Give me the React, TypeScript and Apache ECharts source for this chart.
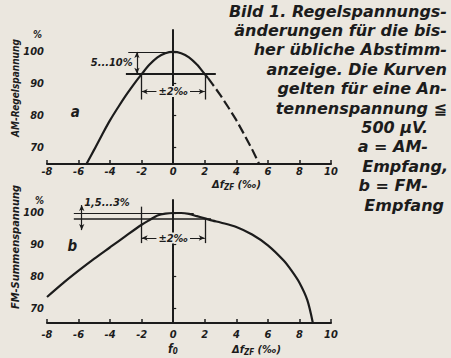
import React, { useEffect, useRef } from "react";
import * as echarts from "echarts";

// Curve a (AM-Regelspannung), left/top solid part and right dashed part
const aSolid: [number, number][] = [
  [-5.5, 64.7], [-5, 69.3], [-4.5, 74], [-4, 78.5], [-3.5, 82.5], [-3, 86.3], [-2.5, 89.8],
  [-2, 93], [-1.5, 96], [-1, 98.3], [-0.5, 99.6], [0, 100], [0.5, 99.6], [1, 98.3],
  [1.5, 96], [2, 93], [2.2, 91.8],
];
const aDashed: [number, number][] = [
  [2.2, 91.8], [2.5, 89.8], [3, 86.3], [3.5, 82.5], [4, 78.5], [4.5, 74], [5, 69.3], [5.45, 64.7],
];
// Curve b (FM-Summenspannung)
const bCurve: [number, number][] = [
  [-8, 73.5], [-7, 77.8], [-6, 81.8], [-5, 85.6], [-4, 89.2], [-3, 92.8], [-2, 96.3],
  [-1.5, 97.8], [-1, 99.2], [-0.5, 99.8], [0, 100], [0.5, 100], [1, 99.7], [1.5, 99],
  [2, 98.3], [2.5, 97.6], [3, 97], [4, 95.6], [5, 93.2], [6, 89.8], [7, 85], [7.5, 81.8],
  [8, 78], [8.5, 72.5], [8.85, 65.3],
];
const yTickValues = [70, 80, 90, 100];
const xMin = -8;
const xMax = 10;
const xStep = 2;
const captionLines = [
  "Bild 1. Regelspannungs-",
  "änderungen für die bis-",
  "her übliche Abstimm-",
  "anzeige. Die Kurven",
  "gelten für eine An-",
  "tennenspannung ≦",
  "500 µV.",
  "a = AM-",
  "Empfang,",
  "b = FM-",
  "Empfang",
];

const INK = "#1c1c1c";
const BG = "#ebe7df";
const FONT = "'DejaVu Sans Condensed', 'DejaVu Sans', sans-serif";

const lbl = { fontFamily: FONT, fontStyle: "italic", fontWeight: "bold", fontSize: 11, color: INK };

function seg(a: [number, number], b: [number, number], width = 1.3, type: any = "solid", arrows = false) {
  return [
    { coord: a, lineStyle: { color: INK, width, type }, symbol: arrows ? "arrow" : "none", symbolSize: [4, 6] },
    { coord: b, symbol: arrows ? "arrow" : "none", symbolSize: [4, 6] },
  ];
}

export default function App() {
  const ref = useRef<HTMLDivElement>(null);
  useEffect(() => {
    document.body.style.margin = "0";
    document.body.style.background = BG;
    const chart = echarts.init(ref.current!, null, { renderer: "svg" });
    const xAxisBase = (gridIndex: number, margin: number) => ({
      type: "value",
      gridIndex,
      min: xMin,
      max: xMax,
      interval: xStep,
      axisLine: { show: true, onZero: false, lineStyle: { color: INK, width: 2 } },
      axisTick: { show: true, inside: true, length: 4, lineStyle: { color: INK, width: 1.5 } },
      axisLabel: { ...lbl, margin },
      splitLine: { show: false },
    });
    const yAxisBase = (gridIndex: number, min: number, max: number) => ({
      type: "value",
      gridIndex,
      min,
      max,
      axisLine: { show: true, lineStyle: { color: INK, width: 2 } },
      axisTick: { show: true, inside: true, length: 3, customValues: yTickValues, lineStyle: { color: INK, width: 1.2 } },
      axisLabel: { ...lbl, margin: 3, customValues: yTickValues },
      splitLine: { show: false },
    });
    const textPts = (items: { value: [number, number]; text: string; size?: number; bg?: boolean }[], xi: number) => ({
      type: "scatter",
      xAxisIndex: xi,
      yAxisIndex: xi,
      symbolSize: 1,
      itemStyle: { color: "rgba(0,0,0,0)" },
      silent: true,
      z: 5,
      data: items.map((it) => ({
        value: it.value,
        label: {
          show: true,
          position: "inside",
          formatter: it.text,
          ...lbl,
          color: INK,
          textBorderWidth: 0,
          opacity: 1,
          fontSize: it.size ?? 11,
          backgroundColor: it.bg ? BG : "transparent",
          padding: it.bg ? [0, 2] : 0,
        },
      })),
    });

    const captionGraphics = captionLines.map((t, i) => {
      const rightX = [447, 447, 447, 447, 447, 447, 428, 428, 448, 428, 444][i];
      return {
        type: "text",
        right: 451 - rightX,
        top: 3 + i * 19.4,
        style: {
          text: t,
          fill: INK,
          font: `italic bold 16px 'DejaVu Sans', sans-serif`,
        },
      };
    });

    const axName = (left: number, top: number) => ({
      type: "text",
      left,
      top,
      style: {
        text: "{n|Δf}{s|ZF}{n| (‰)}",
        rich: {
          n: { fontFamily: FONT, fontStyle: "italic", fontWeight: "bold", fontSize: 11, fill: INK },
          s: { fontFamily: FONT, fontStyle: "italic", fontWeight: "bold", fontSize: 8, fill: INK, padding: [5, 0, 0, 0] },
        },
      },
    });

    chart.setOption({
      animation: false,
      backgroundColor: BG,
      grid: [
        { left: 47, top: 30, width: 284, height: 134 },
        { left: 47, top: 200, width: 284, height: 123 },
      ],
      xAxis: [xAxisBase(0, 2), xAxisBase(1, 6)],
      yAxis: [yAxisBase(0, 64.7, 106.9), yAxisBase(1, 65.3, 104.1)],
      series: [
        {
          type: "line",
          xAxisIndex: 0,
          yAxisIndex: 0,
          data: aSolid,
          showSymbol: false,
          smooth: 0.3,
          lineStyle: { color: INK, width: 2.2 },
          markLine: {
            silent: true,
            animation: false,
            label: { show: false },
            data: [
              seg([-3, 93.1], [2.7, 93.1], 1.8),
              seg([-2.85, 100], [0.2, 100], 1.2),
              seg([-2.3, 100], [-2.3, 93.1], 1.2, "solid", true),
              seg([0, 103], [0, 64.7], 1.5, [7, 4]),
              seg([-2, 93.1], [-2, 85]),
              seg([2, 93.1], [2, 85]),
              seg([-2, 87.5], [2, 87.5], 1.2, "solid", true),
            ],
          },
        },
        {
          type: "line",
          xAxisIndex: 0,
          yAxisIndex: 0,
          data: aDashed,
          showSymbol: false,
          lineStyle: { color: INK, width: 2.2, type: [10, 4] },
        },
        {
          type: "line",
          xAxisIndex: 1,
          yAxisIndex: 1,
          data: bCurve,
          showSymbol: false,
          smooth: 0.3,
          lineStyle: { color: INK, width: 2.2 },
          markLine: {
            silent: true,
            animation: false,
            label: { show: false },
            data: [
              seg([-6.3, 100], [1.3, 100], 1.2),
              seg([-6.3, 98.1], [2.4, 98.1], 1.6),
              seg([-5.8, 102.5], [-5.8, 94.6], 1.2, "solid", true),
              seg([0, 104], [0, 65.3], 1.5, [7, 4]),
              seg([-2, 102], [-2, 90.5]),
              seg([2, 98.4], [2, 90.5]),
              seg([-2, 92.1], [2, 92.1], 1.2, "solid", true),
            ],
          },
        },
        textPts(
          [
            { value: [-3.9, 96.6], text: "5...10%" },
            { value: [0, 87.5], text: "±2‰", bg: true },
            { value: [-6.2, 81], text: "a", size: 15 },
          ],
          0
        ),
        textPts(
          [
            { value: [-4.2, 103.2], text: "1,5...3%" },
            { value: [0, 92.1], text: "±2‰", bg: true },
            { value: [-6.4, 89.6], text: "b", size: 15 },
          ],
          1
        ),
      ],
      graphic: [
        ...captionGraphics,
        axName(212, 179),
        axName(232, 344),
        {
          type: "text",
          left: 168,
          top: 343,
          style: {
            text: "{n|f}{s|0}",
            rich: {
              n: { fontFamily: FONT, fontStyle: "italic", fontWeight: "bold", fontSize: 12, fill: INK },
              s: { fontFamily: FONT, fontStyle: "italic", fontWeight: "bold", fontSize: 8, fill: INK, padding: [5, 0, 0, 0] },
            },
          },
        },
        { type: "text", left: 33, top: 29, style: { text: "%", fill: INK, font: `italic bold 10px ${FONT}` } },
        { type: "text", left: 35, top: 195, style: { text: "%", fill: INK, font: `italic bold 10px ${FONT}` } },
        {
          type: "text",
          x: 15,
          y: 88,
          rotation: Math.PI / 2,
          style: { text: "AM-Regelspannung", fill: INK, font: `italic bold 10px ${FONT}`, align: "center", verticalAlign: "middle" },
        },
        {
          type: "text",
          x: 15,
          y: 247,
          rotation: Math.PI / 2,
          style: { text: "FM-Summenspannung", fill: INK, font: `italic bold 11px ${FONT}`, align: "center", verticalAlign: "middle" },
        },
      ],
    });
    return () => chart.dispose();
  }, []);
  return <div ref={ref} style={{ width: 451, height: 358, background: BG }} />;
}
